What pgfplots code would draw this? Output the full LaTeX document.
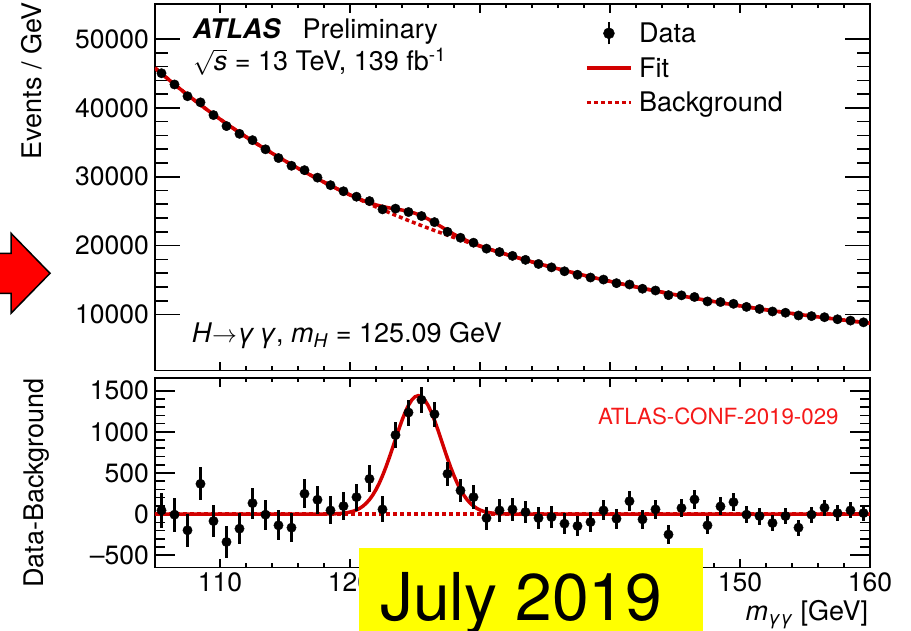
\documentclass[border=0pt]{standalone}
\usepackage{fontspec}
\setmainfont{TeX Gyre Heros}
\usepackage{pgfplots}
\usepackage{pgfplotstable}
\pgfplotsset{compat=1.18}
\definecolor{fitred}{RGB}{210,0,0}
\definecolor{confred}{RGB}{245,25,25}
\definecolor{hlyellow}{RGB}{255,255,0}
\newcommand\fs{\fontsize{27}{32}\selectfont}

% bin centre, data, stat. error, data - background
\pgfplotstableread{
x d e r
105.5 45026 212 45
106.5 43395 208 -7
107.5 41688 204 -197
108.5 40797 202 368
109.5 38949 197 -85
110.5 37355 193 -339
111.5 36231 190 -177
112.5 35307 188 133
113.5 33981 184 -7
114.5 32713 181 -137
115.5 31591 178 -165
116.5 30953 176 247
117.5 29870 173 174
118.5 28771 170 45
119.5 27890 167 97
120.5 27103 165 206
121.5 26463 163 428
122.5 25263 159 57
123.5 25370 159 961
124.5 24877 158 1235
125.5 24293 156 1389
126.5 23408 153 1215
127.5 21999 148 489
128.5 21139 145 287
129.5 20424 143 206
130.5 19560 140 -48
131.5 19065 138 45
132.5 18511 136 57
133.5 17933 134 24
134.5 17335 132 -48
135.5 16840 130 -36
136.5 16272 128 -116
137.5 15772 126 -145
138.5 15366 124 -97
139.5 15070 123 45
140.5 14547 121 -56
141.5 14353 120 157
142.5 13739 117 -64
143.5 13481 116 57
144.5 12808 113 -249
145.5 12777 113 73
146.5 12541 112 178
147.5 11897 109 -137
148.5 11808 109 93
149.5 11553 108 145
150.5 11104 105 -7
151.5 10801 104 -24
152.5 10438 102 -109
153.5 10255 101 -24
154.5 9855 99 -165
155.5 9763 99 -7
156.5 9605 98 77
157.5 9306 97 12
158.5 9113 96 45
159.5 8861 94 12
}\datatab

% background-only fit
\pgfplotstableread{
x y
105 45796
105.5 44981
106.5 43402
107.5 41885
108.5 40429
109.5 39034
110.5 37694
111.5 36408
112.5 35174
113.5 33988
114.5 32850
115.5 31756
116.5 30706
117.5 29696
118.5 28726
119.5 27793
120.5 26897
121.5 26035
122.5 25206
123.5 24409
124.5 23642
125.5 22904
126.5 22193
127.5 21510
128.5 20852
129.5 20218
130.5 19608
131.5 19020
132.5 18454
133.5 17909
134.5 17383
135.5 16876
136.5 16388
137.5 15917
138.5 15463
139.5 15025
140.5 14603
141.5 14196
142.5 13803
143.5 13424
144.5 13057
145.5 12704
146.5 12363
147.5 12034
148.5 11715
149.5 11408
150.5 11111
151.5 10825
152.5 10547
153.5 10279
154.5 10020
155.5 9770
156.5 9528
157.5 9294
158.5 9068
159.5 8849
160 8742
}\bkgtab

% signal + background fit
\pgfplotstableread{
x y
105 45796
105.5 44981
106.5 43402
107.5 41885
108.5 40429
109.5 39034
110.5 37694
111.5 36408
112.5 35174
113.5 33988
114.5 32850
115.5 31756
116.5 30706
117.5 29696
118 29208
118.5 28728
119 28260
119.5 27803
120 27366
120.5 26947
121 26559
121.5 26211
122 25915
122.5 25672
123 25480
123.5 25321
124 25162
124.5 24966
125 24696
125.5 24331
126 23869
126.5 23333
127 22760
127.5 22186
128 21644
128.5 21150
129 20708
129.5 20315
130 19960
130.5 19632
131 19321
131.5 19024
132 18736
132.5 18455
133.5 17909
134.5 17383
135.5 16876
136.5 16388
137.5 15917
138.5 15463
139.5 15025
140.5 14603
141.5 14196
142.5 13803
143.5 13424
144.5 13057
145.5 12704
146.5 12363
147.5 12034
148.5 11715
149.5 11408
150.5 11111
151.5 10825
152.5 10547
153.5 10279
154.5 10020
155.5 9770
156.5 9528
157.5 9294
158.5 9068
159.5 8849
160 8742
}\fittab

% signal component (fit - background)
\pgfplotstableread{
x y
105 0
118.25 1.0
118.75 2.6
119.25 6.7
119.75 15.7
120.25 34.5
120.5 49.6
120.75 70.0
121.0 97.1
121.25 132.1
121.5 176.4
121.75 231.2
122.0 297.5
122.25 375.7
122.5 465.6
122.75 566.4
123.0 676.3
123.25 792.5
123.5 911.6
123.75 1029.1
124.0 1140.4
124.25 1240.3
124.5 1324.0
124.75 1387.2
125.0 1426.6
125.25 1440
125.5 1426.6
125.75 1387.2
126.0 1324.0
126.25 1240.3
126.5 1140.4
126.75 1029.1
127.0 911.6
127.25 792.5
127.5 676.3
127.75 566.4
128.0 465.6
128.25 375.7
128.5 297.5
128.75 231.2
129.0 176.4
129.25 132.1
129.5 97.1
129.75 70.0
130.0 49.6
130.25 34.5
130.75 15.7
131.25 6.7
131.75 2.6
132.25 1.0
160 0
}\sigtab

\pgfplotsset{
  atlas/.style={
    scale only axis,
    xmin=105, xmax=160,
    axis line style={line width=1.6pt},
    every tick/.style={line width=1.6pt, black},
    tick align=inside,
    tick pos=both,
    xtick={110,120,...,160},
    minor x tick num=4,
    minor y tick num=4,
    tick label style={font=\fontsize{26.5}{30}\selectfont},
    label style={font=\fs},
    /pgf/number format/assume math mode=true,
    /pgf/number format/1000 sep={},
    scaled y ticks=false,
    every major x tick/.append style={/pgfplots/major tick length=9pt},
    every minor x tick/.append style={/pgfplots/minor tick length=4.5pt},
    yticklabel style={inner sep=0pt, xshift=-6pt},
    xticklabel style={inner sep=0pt, yshift=-5pt},
  },
  datastyle/.style={only marks, mark=*, mark size=4.7pt, black,
    error bars/.cd, y dir=both, y explicit,
    error bar style={line width=2.3pt, black}, error mark=none},
}

\begin{document}
\begin{tikzpicture}
\useasboundingbox (0pt,0pt) rectangle (911pt,631pt);

% ---------------- upper panel ----------------
\begin{axis}[atlas,
  at={(155pt,260.3pt)}, anchor=south west,
  width=715pt, height=366.7pt,
  ymin=1840, ymax=55080,
  ytick={10000,20000,30000,40000,50000},
  xticklabels={},
  every major y tick/.append style={/pgfplots/major tick length=25pt},
  every minor y tick/.append style={/pgfplots/minor tick length=12.5pt},
  ylabel={Events / GeV},
  ylabel style={at={(axis description cs:-0.1585,1.005)}, anchor=base east, inner sep=0pt},
  legend style={draw=none, fill=none, at={(rel axis cs:0.6014,0.955)}, anchor=north west,
    font=\fs, row sep=9.5pt, inner sep=0pt},
  legend cell align=left,
]
\addlegendimage{legend image code/.code={
  \draw[black, line width=2.3pt] (22pt,-11pt) -- (22pt,11pt);
  \fill[black] (22pt,0pt) circle (5.5pt);
  \path (50pt,0pt);}}
\addlegendentry{Data}
\addlegendimage{legend image code/.code={
  \draw[fitred, line width=3.5pt] (0pt,0pt) -- (44pt,0pt);
  \path (50pt,0pt);}}
\addlegendentry{Fit}
\addlegendimage{legend image code/.code={
  \draw[fitred, line width=3.5pt, dash pattern=on 4pt off 3pt] (0pt,0pt) -- (44pt,0pt);
  \path (50pt,0pt);}}
\addlegendentry{Background}
\addplot[forget plot, fitred, line width=3.5pt, dash pattern=on 4pt off 3pt] table[x=x, y=y] {\bkgtab};
\addplot[forget plot, fitred, line width=3.5pt] table[x=x, y=y] {\fittab};
\addplot[forget plot, datastyle] table[x=x, y=d, y error=e] {\datatab};
\end{axis}

% ---------------- lower panel ----------------
\begin{axis}[atlas,
  at={(155pt,63.3pt)}, anchor=south west,
  width=715pt, height=189.7pt,
  ymin=-652, ymax=1655,
  ytick={-500,0,500,1000,1500},
  yticklabels={–500,0,500,1000,1500},
  every major y tick/.append style={/pgfplots/major tick length=20pt},
  every minor y tick/.append style={/pgfplots/minor tick length=10pt},
  xlabel={\textit{m}\textsubscript{\textit{γγ}} [GeV]},
  xlabel style={at={(axis description cs:0.9976,-0.2794)}, anchor=base east, inner sep=0pt},
  ylabel={Data-Background},
  ylabel style={at={(axis description cs:-0.1559,1)}, anchor=base east, inner sep=0pt},
]
\addplot[fitred, line width=3.5pt, dash pattern=on 4pt off 3pt] coordinates {(105,0) (160,0)};
\addplot[fitred, line width=3.5pt] table[x=x, y=y] {\sigtab};
\addplot[datastyle] table[x=x, y=r, y error=e] {\datatab};
\end{axis}

% ---------------- annotations ----------------
\node[anchor=base west, inner sep=0pt, font=\fs\bfseries\itshape] at (192.7pt,592.7pt) {ATLAS};
\node[anchor=base west, inner sep=0pt, font=\fs] at (302.3pt,592.7pt) {Preliminary};
\node[anchor=base west, inner sep=0pt, font=\fs] at (193pt,560.3pt) {$\sqrt{\mbox{\itshape s}}$ = 13 TeV, 139 fb\textsuperscript{-1}};
\node[anchor=base west, inner sep=0pt, font=\fs] at (191.7pt,288.3pt) {\textit{H}$\rightarrow$\textit{γ\,γ}, \textit{m}\textsubscript{\textit{H}} = 125.09 GeV};
\node[inner sep=0pt, text=confred, font=\fontsize{22.3}{26}\selectfont] at (718.3pt,214.3pt) {ATLAS-CONF-2019-029};

% red arrow on the left
\draw[line width=1.5pt, fill=red] (-10pt,377.7pt) -- (11pt,377.7pt) -- (11pt,397.7pt) -- (50pt,357.7pt)
  -- (11pt,317.7pt) -- (11pt,337.7pt) -- (-10pt,337.7pt) -- cycle;

% yellow date box
\fill[hlyellow] (359.3pt,-5pt) rectangle (703.3pt,83.3pt);
\node[anchor=base west, inner sep=0pt, font=\fontsize{66}{72}\selectfont] at (380pt,10.3pt) {July 2019};
\end{tikzpicture}
\end{document}
